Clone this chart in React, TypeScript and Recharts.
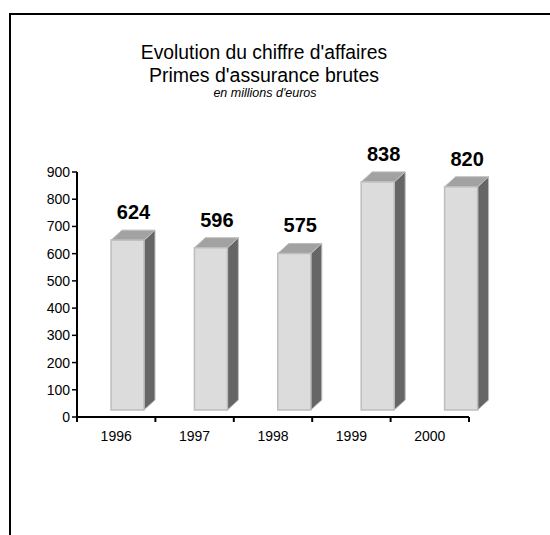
import React from 'react';
import { BarChart, Bar, XAxis, YAxis, LabelList } from 'recharts';

const years = ['1996', '1997', '1998', '1999', '2000'];
const premiums = [624, 596, 575, 838, 820];
const yTicks = [0, 100, 200, 300, 400, 500, 600, 700, 800, 900];
const boundaryTicks = [0, 0.5, 1, 1.5, 2, 2.5, 3, 3.5, 4, 4.5, 5];

const data = years.map((y, i) => ({ year: y, value: premiums[i] }));

const FONT = 'Arial, "Liberation Sans", sans-serif';
const LIFT = 7;
const DX = 11;
const DY = 10;

const Bar3D = (props: any) => {
  const { x, y, width, height } = props;
  const fy = y - LIFT;
  const top = `${x},${fy} ${x + DX},${fy - DY} ${x + width + DX},${fy - DY} ${x + width},${fy}`;
  const side = `${x + width},${fy} ${x + width + DX},${fy - DY} ${x + width + DX},${fy + height - DY} ${x + width},${fy + height}`;
  return (
    <g>
      <polygon points={side} fill="#666666" stroke="#bdbdbd" strokeWidth={1} />
      <polygon points={top} fill="#a2a2a2" stroke="#bdbdbd" strokeWidth={1} />
      <rect x={x} y={fy} width={width} height={height} fill="#dcdcdc" stroke="#bdbdbd" strokeWidth={1.5} />
    </g>
  );
};

const ValueLabel = (props: any) => {
  const { x, y, width, value } = props;
  return (
    <text
      x={x + width / 2 + 6}
      y={y - LIFT - 28}
      textAnchor="middle"
      dominantBaseline="central"
      fontFamily={FONT}
      fontWeight="bold"
      fontSize={20}
      fill="#000"
    >
      {value}
    </text>
  );
};

const XTick = (props: any) => {
  const { x, y, payload } = props;
  const v = payload.value as number;
  if (Number.isInteger(v)) {
    return <line x1={x} y1={y} x2={x} y2={y + 5} stroke="#000" strokeWidth={2} />;
  }
  return (
    <text x={x} y={y + 19} textAnchor="middle" dominantBaseline="central" fontFamily={FONT} fontSize={14} fill="#000">
      {years[Math.floor(v)]}
    </text>
  );
};

export default function App() {
  return (
    <div style={{ position: 'absolute', left: 0, top: 0, width: 550, height: 535, background: '#fff', overflow: 'hidden' }}>
      <div
        style={{
          position: 'absolute',
          left: 9,
          top: 13,
          width: 560,
          height: 540,
          borderTop: '2px solid #000',
          borderLeft: '2px solid #000',
        }}
      />
      <div style={{ position: 'absolute', left: 0, width: 528, top: 42, textAlign: 'center', fontFamily: FONT, fontSize: 19.3, lineHeight: '22px', color: '#000' }}>
        Evolution du chiffre d'affaires
      </div>
      <div style={{ position: 'absolute', left: 0, width: 528, top: 64, textAlign: 'center', fontFamily: FONT, fontSize: 19.5, lineHeight: '22px', color: '#000' }}>
        Primes d'assurance brutes
      </div>
      <div style={{ position: 'absolute', left: 0, width: 530, top: 85, textAlign: 'center', fontFamily: FONT, fontSize: 12.5, fontStyle: 'italic', lineHeight: '16px', color: '#000' }}>
        en millions d'euros
      </div>
      <div style={{ position: 'absolute', left: 0, top: 0 }}>
        <BarChart width={550} height={535} data={data} margin={{ top: 172, right: 81, bottom: 88, left: 17 }}>
          <XAxis xAxisId="bars" dataKey="year" type="category" hide height={0} padding={{ left: 9, right: -34 }} />
          <XAxis
            xAxisId="ticks"
            type="number"
            dataKey="value"
            domain={[0, 5]}
            allowDataOverflow
            ticks={boundaryTicks}
            interval={0}
            height={30}
            tickLine={false}
            tickSize={0}
            tickMargin={0}
            tick={<XTick />}
            axisLine={{ stroke: '#000', strokeWidth: 2 }}
          />
          <YAxis
            domain={[0, 900]}
            ticks={yTicks}
            interval={0}
            width={60}
            tickSize={5}
            tickMargin={2}
            tickLine={{ stroke: '#000', strokeWidth: 1.5 }}
            axisLine={{ stroke: '#000', strokeWidth: 2 }}
            tick={{ fill: '#000', fontSize: 14, fontFamily: FONT }}
          />
          <Bar xAxisId="bars" dataKey="value" barSize={33} shape={<Bar3D />} isAnimationActive={false}>
            <LabelList dataKey="value" content={<ValueLabel />} />
          </Bar>
        </BarChart>
      </div>
    </div>
  );
}
